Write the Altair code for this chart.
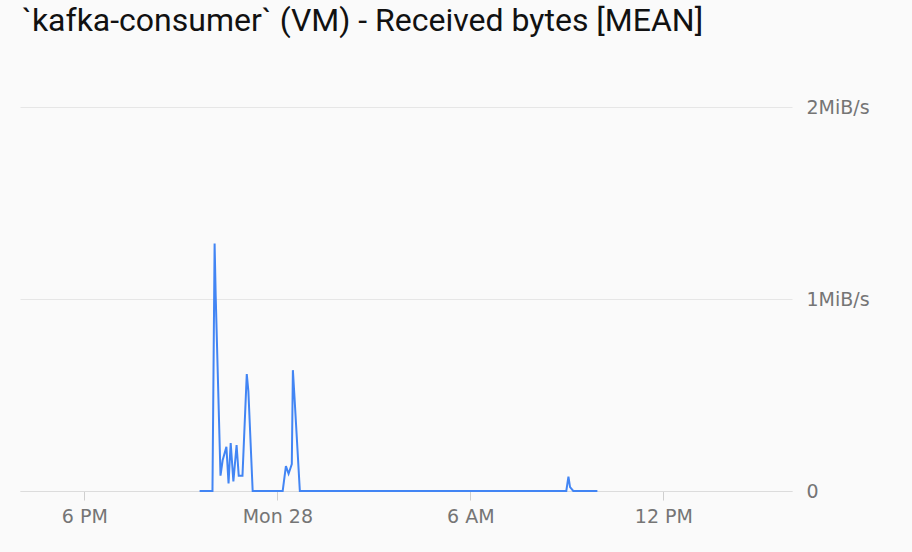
import altair as alt
import pandas as pd

# Timestamps (local time) and received bytes in MiB/s
times = [
    "2017-08-27T21:35:00", "2017-08-27T21:59:00", "2017-08-27T22:03:00", "2017-08-27T22:05:00",
    "2017-08-27T22:14:00", "2017-08-27T22:18:00", "2017-08-27T22:25:00", "2017-08-27T22:29:00",
    "2017-08-27T22:33:00", "2017-08-27T22:38:00", "2017-08-27T22:44:00", "2017-08-27T22:48:00",
    "2017-08-27T22:55:00", "2017-08-27T23:03:00", "2017-08-27T23:06:00", "2017-08-27T23:14:00",
    "2017-08-28T00:10:00", "2017-08-28T00:16:00", "2017-08-28T00:21:00", "2017-08-28T00:27:00",
    "2017-08-28T00:29:00", "2017-08-28T00:32:00", "2017-08-28T00:42:00",
    "2017-08-28T08:59:00", "2017-08-28T09:03:00", "2017-08-28T09:06:00", "2017-08-28T09:12:00",
    "2017-08-28T09:57:00",
]
mib_per_s = [
    0.0, 0.0, 1.29, 1.02,
    0.08, 0.16, 0.23, 0.04,
    0.25, 0.05, 0.24, 0.08,
    0.08, 0.61, 0.52, 0.0,
    0.0, 0.13, 0.09, 0.14,
    0.63, 0.49, 0.0,
    0.0, 0.075, 0.02, 0.0,
    0.0,
]
y_ticks = [0, 1, 2]

df = pd.DataFrame({"time": times, "value": mib_per_s})

x_domain = [alt.DateTime(year=2017, month=8, date=27, hours=16),
            alt.DateTime(year=2017, month=8, date=28, hours=16)]
x_ticks = [alt.DateTime(year=2017, month=8, date=27, hours=18),
           alt.DateTime(year=2017, month=8, date=28, hours=0),
           alt.DateTime(year=2017, month=8, date=28, hours=6),
           alt.DateTime(year=2017, month=8, date=28, hours=12)]

chart = alt.Chart(df).mark_line(color="#4285f4", strokeWidth=2).encode(
    x=alt.X("time:T", title=None,
            scale=alt.Scale(domain=x_domain),
            axis=alt.Axis(values=x_ticks, grid=False, domain=True, domainColor="#dcdcdc",
                          tickColor="#cfcfcf", tickSize=9, labelPadding=7,
                          labelFont="DejaVu Sans", labelFontSize=19, labelColor="#757575",
                          labelExpr="hours(datum.value) == 0 ? timeFormat(datum.value, '%a %d') : timeFormat(datum.value, '%-I %p')")),
    y=alt.Y("value:Q", title=None,
            scale=alt.Scale(domain=[0, 2.2], nice=False),
            axis=alt.Axis(orient="right", values=y_ticks, grid=True, gridColor="#e6e6e6",
                          domain=False, ticks=False, labelPadding=14,
                          labelFont="DejaVu Sans", labelFontSize=19, labelColor="#757575",
                          labelBaseline="middle",
                          labelExpr="datum.value == 0 ? '0' : datum.value + 'MiB/s'")),
).properties(
    width=772, height=422,
    title=alt.TitleParams("`kafka-consumer` (VM) - Received bytes [MEAN]", anchor="start",
                          font="Roboto", fontSize=32, fontWeight="normal", color="#111111",
                          frame="group", offset=30, dx=2, dy=-1),
    background="#fafafa",
    padding={"left": 20, "top": 69, "right": 120, "bottom": 61},
    autosize=alt.AutoSizeParams(type="none"),
).configure_view(stroke=None)

chart.save("out.html", embed_options={"renderer": "svg", "actions": False})
